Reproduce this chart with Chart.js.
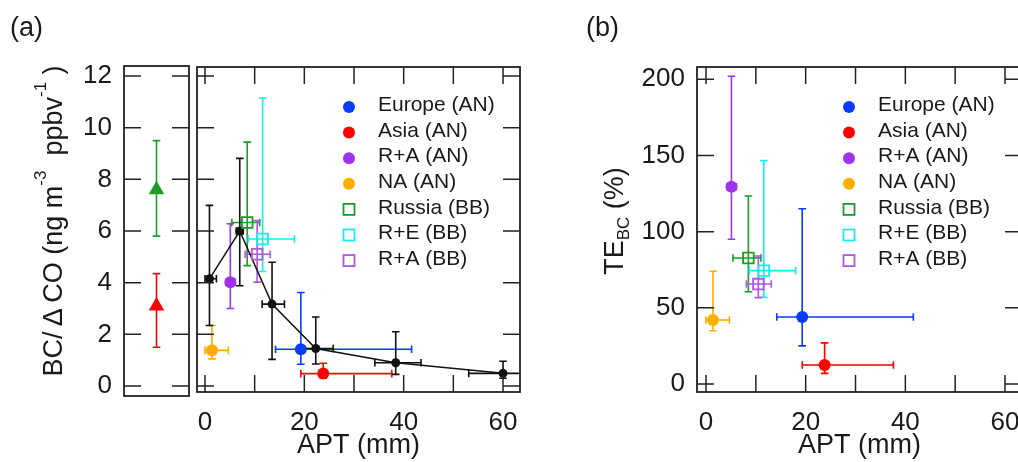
<!DOCTYPE html>
<html>
<head>
<meta charset="utf-8">
<script src="https://cdn.jsdelivr.net/npm/chart.js@4.4.0/dist/chart.umd.min.js"></script>
<style>
  body { margin: 0; background: #fff; overflow: hidden; }
  #wrap { position: relative; width: 1018px; height: 462px; overflow: hidden;
          font-family: 'Liberation Sans', Arial, sans-serif; color: #1a1a1a; }
  canvas { position: absolute; left: 0; top: 0; }
  .tag { position: absolute; top: 14px; font-size: 27px; line-height: 1; }
  .ytitle { position: absolute; white-space: nowrap; font-size: 27px; line-height: 1;
            transform: translate(-50%, -50%) rotate(-90deg); }
  .ytitle .sup { font-size: 17px; position: relative; top: -16px; }
  .ytitle .sub { font-size: 17px; position: relative; top: 6px; }
</style>
</head>
<body>
<div id="wrap">
  <canvas id="inset" width="1018" height="462"></canvas>
  <canvas id="ratio" width="1018" height="462"></canvas>
  <canvas id="te" width="1040" height="462"></canvas>
  <div class="tag" style="left:10px">(a)</div>
  <div class="tag" style="left:586px">(b)</div>
  <div class="ytitle" style="left:53px; top:221px">BC/&thinsp;Δ&thinsp;CO (ng m<span class="sup">-3</span>&nbsp;&nbsp;ppbv<span class="sup">-1</span>&nbsp;)</div>
  <div class="ytitle" style="left:614px; top:221px">TE<span class="sub">BC</span> (%)</div>
</div>
<script>
// binned composite (black curve): APT in mm, BC/dCO ratio
const binApt = [0.9, 7.0, 13.5, 22.3, 38.4, 60.0];
const binAptLo = [0.0, 6.3, 11.5, 18.8, 34.2, 53.1];
const binAptHi = [2.3, 7.7, 16.0, 25.8, 43.5, 67.0];
const binRatio = [4.15, 6.0, 3.17, 1.45, 0.9, 0.49];
const binRatioLo = [2.34, 3.88, 1.03, 0.85, 0.45, 0.3];
const binRatioHi = [6.99, 8.81, 4.79, 2.67, 2.1, 0.96];

// regional cases
const regions = ['Europe (AN)', 'Asia (AN)', 'R+A (AN)', 'NA (AN)', 'Russia (BB)', 'R+E (BB)', 'R+A (BB)'];
const regionApt = [19.3, 23.8, 5.1, 1.4, 8.5, 11.6, 10.5];
const regionAptLo = [14.2, 19.3, 4.2, 0.0, 5.4, 8.7, 8.1];
const regionAptHi = [41.6, 37.6, 6.1, 4.7, 11.0, 18.0, 13.1];
const regionRatio = [1.42, 0.48, 4.02, 1.38, 6.33, 5.69, 5.10];
const regionRatioLo = [0.84, 0.3, 3.0, 1.05, 4.66, 4.43, 4.02];
const regionRatioHi = [3.62, 0.88, 6.28, 2.34, 9.44, 11.15, 6.4];
const regionTE = [44, 12.5, 129.5, 42, 82.7, 74.4, 65.6];
const regionTELo = [25, 7, 95, 35, 60.6, 56.9, 56.7];
const regionTEHi = [115, 27, 202, 74, 123.4, 146.6, 84];

// the two reference ratios in the narrow left box
const insetRatio = [7.6, 3.1];
const insetRatioLo = [5.8, 1.5];
const insetRatioHi = [9.5, 4.35];

// ticks
const ratioTicks = [0, 2, 4, 6, 8, 10, 12];
const teTicks = [0, 50, 100, 150, 200];
const aptLabelTicks = [0, 20, 40, 60];
const aptTickMarks = [0, 10, 20, 30, 40, 50, 60];

const regionColors = ['#0a3cff', '#ff0000', '#a033f0', '#ffad00', '#1e9b2a', '#12eef0', '#b055e6'];
const regionFilled = [true, true, true, true, false, false, false];
const insetColors = ['#1e9b2a', '#ff0000'];

const FONT = "'Liberation Sans', Arial, sans-serif";
Chart.defaults.font.family = FONT;
Chart.defaults.color = '#1a1a1a';

// box round the plot area with inward ticks on every side
const frameTicks = {
  id: 'frameTicks',
  afterDraw(chart, args, opts) {
    const { ctx, chartArea: a, scales } = chart;
    const len = 17;
    ctx.save();
    ctx.strokeStyle = '#222';
    ctx.lineWidth = 1.8;
    ctx.strokeRect(a.left, a.top, a.right - a.left, a.bottom - a.top);
    ctx.lineWidth = 1.5;
    ctx.beginPath();
    (opts.xMarks || []).forEach(v => {
      const px = scales.x.getPixelForValue(v);
      ctx.moveTo(px, a.bottom); ctx.lineTo(px, a.bottom - len);
      ctx.moveTo(px, a.top); ctx.lineTo(px, a.top + len);
    });
    (opts.yMarks || []).forEach(v => {
      const py = scales.y.getPixelForValue(v);
      ctx.moveTo(a.left, py); ctx.lineTo(a.left + len, py);
      ctx.moveTo(a.right, py); ctx.lineTo(a.right - len, py);
    });
    ctx.stroke();
    ctx.restore();
  }
};

// x/y error bars with small caps, drawn under the markers
const errorBars = {
  id: 'errorBars',
  beforeDatasetsDraw(chart) {
    const { ctx, chartArea: a, scales: { x, y } } = chart;
    const cap = 3.8;
    ctx.save();
    ctx.beginPath();
    ctx.rect(a.left, a.top, a.right - a.left, a.bottom - a.top);
    ctx.clip();
    ctx.lineWidth = 1.6;
    chart.data.datasets.forEach(ds => {
      if (!ds.err) return;
      ctx.strokeStyle = ds.borderColor;
      ds.data.forEach((p, i) => {
        const e = ds.err[i];
        const px = x.getPixelForValue(p.x), py = y.getPixelForValue(p.y);
        ctx.beginPath();
        if (e.xLo != null) {
          const l = x.getPixelForValue(e.xLo), r = x.getPixelForValue(e.xHi);
          ctx.moveTo(l, py); ctx.lineTo(r, py);
          ctx.moveTo(l, py - cap); ctx.lineTo(l, py + cap);
          ctx.moveTo(r, py - cap); ctx.lineTo(r, py + cap);
        }
        if (e.yLo != null) {
          const b = y.getPixelForValue(e.yLo), t = y.getPixelForValue(e.yHi);
          ctx.moveTo(px, b); ctx.lineTo(px, t);
          ctx.moveTo(px - cap, b); ctx.lineTo(px + cap, b);
          ctx.moveTo(px - cap, t); ctx.lineTo(px + cap, t);
        }
        ctx.stroke();
      });
    });
    ctx.restore();
  }
};

// legend inside the plot, upper right
const boxLegend = {
  id: 'boxLegend',
  afterDatasetsDraw(chart) {
    const { ctx, chartArea: a } = chart;
    ctx.save();
    ctx.font = '21px ' + FONT;
    ctx.textBaseline = 'middle';
    let row = 0;
    chart.data.datasets.forEach(ds => {
      if (!ds.inLegend) return;
      const y = a.top + 40 + row * 25.6;
      const x = a.left + 152;
      if (ds.pointStyle === 'circle') {
        ctx.fillStyle = ds.borderColor;
        ctx.beginPath();
        ctx.arc(x, y, 6, 0, Math.PI * 2);
        ctx.fill();
      } else {
        ctx.strokeStyle = ds.borderColor;
        ctx.lineWidth = 1.8;
        ctx.strokeRect(x - 5.5, y - 5.5, 11, 11);
      }
      ctx.fillStyle = '#1a1a1a';
      ctx.fillText(ds.label, a.left + 181, y - 1.5);
      row++;
    });
    ctx.restore();
  }
};

function regionSets(vals, lo, hi) {
  return regions.map((name, i) => ({
    label: name,
    inLegend: true,
    data: [{ x: regionApt[i], y: vals[i] }],
    err: [{ xLo: regionAptLo[i], xHi: regionAptHi[i], yLo: lo[i], yHi: hi[i] }],
    pointStyle: regionFilled[i] ? 'circle' : 'rect',
    pointRadius: regionFilled[i] ? 6 : 7.5,
    pointBackgroundColor: regionFilled[i] ? regionColors[i] : 'rgba(0,0,0,0)',
    pointBorderColor: regionColors[i],
    pointBorderWidth: regionFilled[i] ? 0 : 1.8,
    borderColor: regionColors[i],
    showLine: false
  }));
}

function fixedTicks(list) {
  return s => { s.ticks = list.map(v => ({ value: v })); };
}

function aptAxis(min, max) {
  return {
    type: 'linear', min, max,
    afterBuildTicks: fixedTicks(aptLabelTicks),
    afterFit: s => { s.height = 70; },
    grid: { display: false, drawTicks: false },
    border: { display: false },
    ticks: { font: { size: 26 }, padding: 15, maxRotation: 0, autoSkip: false, callback: v => String(v) },
    title: { display: true, text: 'APT (mm)', font: { size: 27 }, padding: { top: 0, bottom: 0 } }
  };
}

function valueAxis(min, max, list) {
  return {
    type: 'linear', position: 'left', min, max,
    afterBuildTicks: fixedTicks(list),
    afterFit: s => { s.width = 60; },
    grid: { display: false, drawTicks: false },
    border: { display: false },
    ticks: { font: { size: 26 }, padding: 12, autoSkip: false, callback: v => String(v) }
  };
}

const common = {
  responsive: false,
  animation: false,
  events: [],
  plugins: { legend: { display: false }, tooltip: { enabled: false } }
};

// narrow box on the left
new Chart(document.getElementById('inset'), {
  type: 'scatter',
  data: {
    datasets: insetRatio.map((v, i) => ({
      data: [{ x: 0, y: v }],
      err: [{ yLo: insetRatioLo[i], yHi: insetRatioHi[i] }],
      pointStyle: 'triangle',
      pointRadius: 9,
      pointBackgroundColor: insetColors[i],
      pointBorderWidth: 0,
      borderColor: insetColors[i]
    }))
  },
  options: {
    ...common,
    layout: { padding: { left: 64, right: 829, top: 66, bottom: 66 } },
    scales: {
      x: { type: 'linear', display: false, min: -1, max: 1 },
      y: valueAxis(-0.387, 12.387, ratioTicks)
    },
    plugins: { ...common.plugins, frameTicks: { yMarks: ratioTicks } }
  },
  plugins: [errorBars, frameTicks]
});

// (a) BC/dCO against APT
new Chart(document.getElementById('ratio'), {
  type: 'scatter',
  data: {
    datasets: [
      ...regionSets(regionRatio, regionRatioLo, regionRatioHi),
      {
        label: 'all',
        data: binApt.map((v, i) => ({ x: v, y: binRatio[i] })),
        err: binApt.map((v, i) => ({ xLo: binAptLo[i], xHi: binAptHi[i], yLo: binRatioLo[i], yHi: binRatioHi[i] })),
        showLine: true,
        borderColor: '#111',
        borderWidth: 1.5,
        pointRadius: 4.5,
        pointBackgroundColor: '#111',
        pointBorderWidth: 0
      }
    ]
  },
  options: {
    ...common,
    layout: { padding: { left: 197, right: 498, top: 67, bottom: 0 } },
    scales: {
      x: aptAxis(-1.61, 63.42),
      y: { type: 'linear', display: false, min: -0.232, max: 12.348 }
    },
    plugins: { ...common.plugins, frameTicks: { xMarks: aptTickMarks, yMarks: ratioTicks } }
  },
  plugins: [errorBars, frameTicks, boxLegend]
});

// (b) transport efficiency against APT
new Chart(document.getElementById('te'), {
  type: 'scatter',
  data: { datasets: regionSets(regionTE, regionTELo, regionTEHi) },
  options: {
    ...common,
    layout: { padding: { left: 637, right: 18, top: 67, bottom: 0 } },
    scales: {
      x: aptAxis(-1.81, 63.41),
      y: valueAxis(-5.25, 208.07, teTicks)
    },
    plugins: { ...common.plugins, frameTicks: { xMarks: aptTickMarks, yMarks: teTicks } }
  },
  plugins: [errorBars, frameTicks, boxLegend]
});
</script>
</body>
</html>
